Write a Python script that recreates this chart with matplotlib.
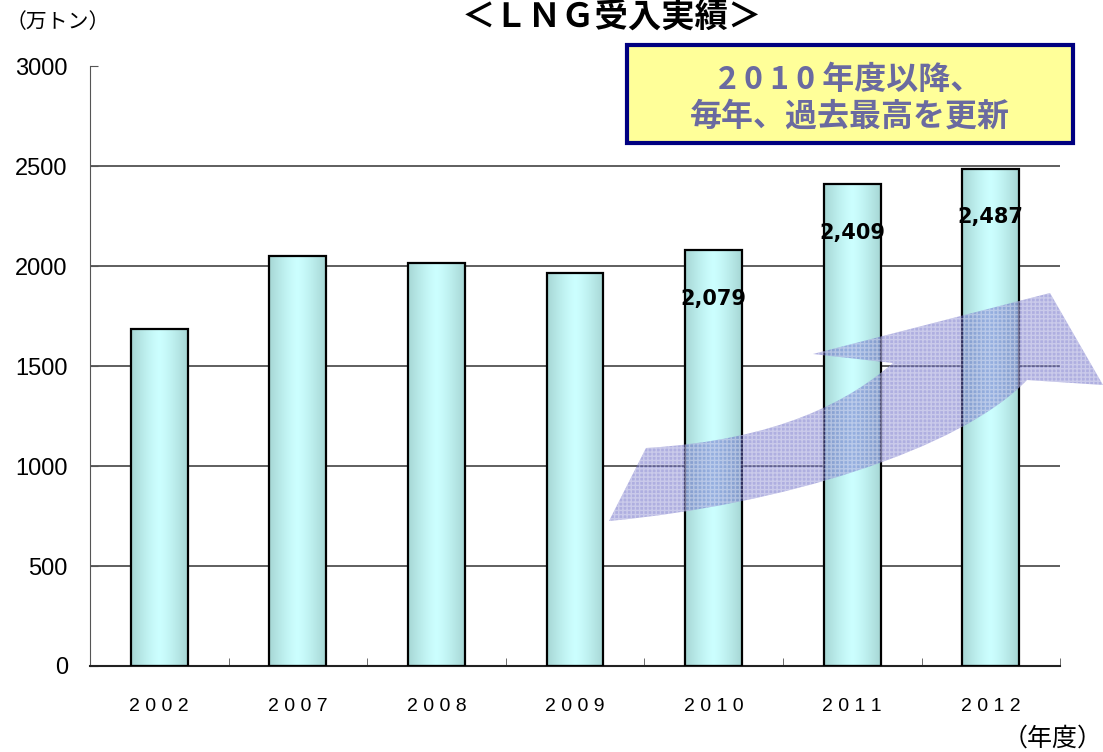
import matplotlib.pyplot as plt
import numpy as np
from matplotlib.patches import Rectangle, PathPatch
from matplotlib.path import Path
from matplotlib.colors import LinearSegmentedColormap

plt.rcParams['font.family'] = ['Liberation Sans', 'Noto Sans CJK JP', 'DejaVu Sans']
plt.rcParams['hatch.linewidth'] = 1.0

# data
years = ['2002', '2007', '2008', '2009', '2010', '2011', '2012']
imports = [1685, 2050, 2015, 1965, 2079, 2409, 2487]
labelled = ['2010', '2011', '2012']
yticks = [0, 500, 1000, 1500, 2000, 2500, 3000]

fig = plt.figure(figsize=(11.03, 7.52), dpi=100)
ax = fig.add_axes([0.0816, 0.1144, 0.8795, 0.7976])

x = np.arange(len(years))
bar_w = 0.41
bars = ax.bar(x, imports, width=bar_w, facecolor='none', edgecolor='black',
              linewidth=1.6, zorder=3)

# cyan gradient inside each bar (darker at the edges, light in the middle)
grad = np.linspace(-1, 1, 200)
grad = 1 - np.abs(grad) ** 1.3
grad = np.tile(grad, (2, 1))
cmap = LinearSegmentedColormap.from_list('cy', ['#a6d6d4', '#ccffff'])
for b in bars:
    bx, bw, bh = b.get_x(), b.get_width(), b.get_height()
    im = ax.imshow(grad, cmap=cmap, aspect='auto', extent=[bx, bx + bw, 0, bh],
                   zorder=2, interpolation='bilinear')
    im.set_clip_path(Rectangle((bx, 0), bw, bh, transform=ax.transData))

ax.set_xlim(-0.5, len(years) - 0.5)
ax.set_ylim(0, 3000)

ax.set_yticks(yticks)
ax.set_yticklabels([str(v) for v in yticks], fontsize=17)
ax.tick_params(axis='y', direction='in', length=6, pad=16, color='#555555')
for v in yticks[1:-1]:
    ax.axhline(v, color='#333333', linewidth=1.1, zorder=1)

ax.set_xticks(x)
ax.set_xticklabels([' '.join(y) for y in years], fontsize=14)
ax.tick_params(axis='x', length=0, pad=23)
ax.set_xticks(np.arange(len(years) + 1) - 0.5, minor=True)
ax.tick_params(axis='x', which='minor', direction='in', length=6, color='#555555')

for s in ['top', 'right']:
    ax.spines[s].set_visible(False)
ax.spines['left'].set_color('#555555')
ax.spines['bottom'].set_color('#222222')
ax.spines['bottom'].set_linewidth(1.5)

# value labels for the latest years
for xi, yr, v in zip(x, years, imports):
    if yr in labelled:
        ax.annotate(f'{v:,}', (xi, v), xytext=(0, -35),
                    textcoords='offset points', ha='center', va='center',
                    fontsize=15, fontweight='bold', color='black', zorder=6,
                    family=['DejaVu Sans'])

# big rising arrow (decoration, pixel coordinates of the figure)
W, H = 1103, 752
def px(pts):
    return [(p / W, 1 - q / H) for p, q in pts]

verts = [(609, 521), (646, 448),
         (780, 440), (850, 400), (893, 363),
         (813, 354), (1050, 293), (1103, 385), (1027, 380),
         (960, 450), (780, 505), (609, 521)]
codes = [Path.MOVETO, Path.LINETO,
         Path.CURVE4, Path.CURVE4, Path.CURVE4,
         Path.LINETO, Path.LINETO, Path.LINETO, Path.LINETO,
         Path.CURVE4, Path.CURVE4, Path.CURVE4]
arrow_path = Path(px(verts), codes)
fig.patches.append(PathPatch(arrow_path, transform=fig.transFigure,
                             facecolor=(0.38, 0.38, 0.76, 0.5), edgecolor='none',
                             zorder=5))
# fine dotted texture on top
fig.patches.append(PathPatch(arrow_path, transform=fig.transFigure,
                             facecolor='none', edgecolor=(1, 1, 1, 0.35),
                             linewidth=0, hatch='++++', zorder=5))

# annotation box
fig.patches.append(Rectangle((627 / W, 1 - 143 / H), 446 / W, 98 / H,
                             transform=fig.transFigure, facecolor='#ffff99',
                             edgecolor='#000080', linewidth=3, zorder=6))
fig.text(850 / W, 1 - 98 / H, '2 0 1 0 年度以降、\n毎年、過去最高を更新', ha='center',
         va='center', fontsize=23, fontweight='bold', color='#6a6aa0',
         family=['Noto Sans CJK JP'], linespacing=1.2, zorder=7)

# title and unit labels
fig.text(612 / W, 1 - 17 / H, '＜ＬＮＧ受入実績＞', ha='center', va='center',
         fontsize=24, fontweight='bold', family=['Noto Sans CJK JP'])
fig.text(6 / W, 1 - 22 / H, '（万トン）', ha='left', va='center', fontsize=15,
         family=['Noto Sans CJK JP'])
fig.text(1103 / W, 1 - 739 / H, '（年度）', ha='right', va='center', fontsize=18,
         family=['Noto Sans CJK JP'])

fig.savefig('out.png', dpi=100)
